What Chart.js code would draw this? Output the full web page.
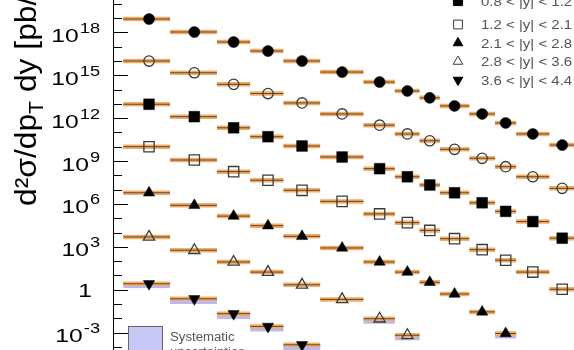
<!DOCTYPE html>
<html><head><meta charset="utf-8">
<script src="https://cdn.jsdelivr.net/npm/chart.js@4.4.1/dist/chart.umd.min.js"></script>
<style>html,body{margin:0;padding:0;background:#fff;}canvas{display:block;}</style>
</head><body>
<canvas id="c" width="574" height="350"></canvas>
<script>
// ---- data ----
const binEdges   = [20,30,45,60,80,110,160,210,260,310,400,500,600,800,1000];
const binCenters = [25,37,52,70,94,133,184,234,284,352,447,548,693,894];
const rapidityLabels = ["|y| < 0.3","0.3 < |y| < 0.8","0.8 < |y| < 1.2","1.2 < |y| < 2.1","2.1 < |y| < 2.8","2.8 < |y| < 3.6","3.6 < |y| < 4.4"];
const ySeries0 = [8.5e18,1.05e18,2.1e17,4.9e16,9.8e15,1.66e15,3.3e14,7.9e13,2.6e13,7.1e12,1.95e12,4.6e11,7.8e10,1.3e10];
const ySeries1 = [9.8e15,1.48e15,2.3e14,5.2e13,1.15e13,1.95e12,3.2e11,7.8e10,2.6e10,6.6e9,1.55e9,4.0e8,7.9e7,1.23e7];
const ySeries2 = [9.3e12,1.26e12,2.1e11,5.0e10,1.12e10,1.9e9,2.9e8,7.9e7,2.1e7,6.0e6,1.2e6,3.0e5,5.8e4,4.0e3];
const ySeries3 = [1.0e10,1.17e9,1.8e8,4.5e7,8.9e6,1.5e6,2.0e5,4.9e4,1.4e4,3.7e3,630,115,17,1.07];
const ySeries4 = [6.0e6,7.9e5,1.4e5,3.0e4,5.4e3,830,87,17,3.3,0.5,0.028,8.7e-4];
const ySeries5 = [4.9e3,575,87,17,2.2,0.21,9.3e-3,6.5e-4];
const ySeries6 = [2.6,0.23,0.021,2.7e-3,1.4e-4];
// lower edge of the visible systematic-uncertainty band (null = hidden under the bar)
const sysLow4 = [null,null,null,null,null,null,null,null,null,null,null,3.9e-4];
const sysLow5 = [null,null,null,null,null,null,4.2e-3,2.9e-4];
const sysLow6 = [1.3,0.1,0.009,1.2e-3,6e-5];
const yTickExponents = [18,15,12,9,6,3,0,-3];
const yAxisTitle = ["d\u00B2\u03C3/dp", "T", " dy [pb/GeV]"];
const systLabel = ["Systematic", "uncertainties"];

const allSeries = [ySeries0,ySeries1,ySeries2,ySeries3,ySeries4,ySeries5,ySeries6];
const sysBands = [[ySeries4,sysLow4],[ySeries5,sysLow5],[ySeries6,sysLow6]];
const X_MIN = 18.3, X_MAX = 990, Y_MIN = 6.07e-5, Y_MAX = 1.815e20;

// ---- styles ----
const markerStyles = [
  {pointStyle:'circle',   radius:5.5, rotation:0,   fill:true},
  {pointStyle:'circle',   radius:5.2, rotation:0,   fill:false},
  {pointStyle:'rect',     radius:7.6, rotation:0,   fill:true},
  {pointStyle:'rect',     radius:7.3, rotation:0,   fill:false},
  {pointStyle:'triangle', radius:6.5, rotation:0,   fill:true},
  {pointStyle:'triangle', radius:6.5, rotation:0,   fill:false},
  {pointStyle:'triangle', radius:6.5, rotation:180, fill:true}
];
const FONT = "'Liberation Sans', Arial, Helvetica, sans-serif";

function barData(vals){
  const d=[];
  vals.forEach((v,i)=>{ d.push({x:binEdges[i],y:v},{x:binEdges[i+1],y:v},{x:binEdges[i+1],y:null}); });
  return d;
}
const datasets=[];
allSeries.forEach((vals,s)=>{
  const st=markerStyles[s];
  datasets.push({
    type:'scatter', label:rapidityLabels[s], order:0,
    data: vals.map((v,i)=>({x:binCenters[i],y:v})),
    pointStyle:st.pointStyle, pointRadius:st.radius, pointRotation:st.rotation,
    pointBackgroundColor: st.fill ? '#000' : 'rgba(255,255,255,0)',
    pointBorderColor: st.fill ? '#000' : '#3a3a3a',
    pointBorderWidth: st.fill ? 0.5 : 1.3,
    showLine:false
  });
  datasets.push({
    type:'line', label:'err'+s, order:1, data:barData(vals),
    borderColor:'rgba(70,50,35,0.85)', borderWidth:1, pointRadius:0, spanGaps:false, showLine:true, fill:false
  });
  datasets.push({
    type:'line', label:'band'+s, order:2, data:barData(vals),
    borderColor:'#f2ae66', borderWidth:4.5, pointRadius:0, spanGaps:false, showLine:true, fill:false
  });
});

function scaledText(ctx, txt, x, y, px, sx, align){
  ctx.save();
  ctx.font = px+"px "+FONT;
  ctx.textBaseline='alphabetic';
  const w = ctx.measureText(txt).width*sx;
  let x0 = x;
  if(align==='right') x0 = x - w;
  ctx.translate(x0, y); ctx.scale(sx,1);
  ctx.textAlign='left';
  ctx.fillText(txt,0,0);
  ctx.restore();
  return w;
}
function textWidth(ctx, txt, px, sx){ ctx.save(); ctx.font=px+"px "+FONT; const w=ctx.measureText(txt).width*sx; ctx.restore(); return w; }

const sysPlugin = {
  id:'sys',
  beforeDatasetsDraw(chart){
    const ctx=chart.ctx, xs=chart.scales.x, ys=chart.scales.y;
    ctx.save();
    ctx.fillStyle='#b9b9f2';
    sysBands.forEach(([vals,lows])=>{
      lows.forEach((lo,i)=>{
        if(lo==null) return;
        const x0=xs.getPixelForValue(binEdges[i]), x1=xs.getPixelForValue(binEdges[i+1]);
        const y0=ys.getPixelForValue(vals[i]*1.15), y1=ys.getPixelForValue(lo);
        ctx.fillRect(x0,y0,x1-x0,y1-y0);
      });
    });
    ctx.restore();
  }
};

const decor = {
  id:'decor',
  afterDraw(chart){
    const ctx=chart.ctx, ys=chart.scales.y, area=chart.chartArea;
    ctx.save();
    // inner ticks each decade
    ctx.strokeStyle='#000'; ctx.lineWidth=1;
    for(let k=-4;k<=20;k++){
      const py=Math.round(ys.getPixelForValue(Math.pow(10,k)))+0.5;
      const len = (k%3===0)?15:9;
      ctx.beginPath(); ctx.moveTo(area.left,py); ctx.lineTo(area.left+len,py); ctx.stroke();
    }
    // tick labels
    ctx.fillStyle='#000';
    const R=100, sx=1.3;
    yTickExponents.forEach(e=>{
      const py=ys.getPixelForValue(Math.pow(10,e));
      if(e===0){ scaledText(ctx,"1",R-8,py+7,19,sx,'right'); return; }
      const es=String(e);
      const we=textWidth(ctx,es,14,sx);
      scaledText(ctx,es,R-we,py+0.5,14,sx,'left');
      scaledText(ctx,"10",R-we-1,py+9.5,19,sx,'right');
    });
    // y axis title (rotated)
    ctx.save();
    ctx.translate(36,206); ctx.rotate(-Math.PI/2); ctx.scale(1.06,1);
    ctx.fillStyle='#000'; ctx.textAlign='left'; ctx.textBaseline='alphabetic';
    ctx.font="30px "+FONT;
    let x=0;
    ctx.fillText(yAxisTitle[0],x,0); x+=ctx.measureText(yAxisTitle[0]).width;
    ctx.font="20px "+FONT;
    ctx.fillText(yAxisTitle[1],x,7); x+=ctx.measureText(yAxisTitle[1]).width;
    ctx.font="30px "+FONT;
    ctx.fillText(yAxisTitle[2],x,0);
    ctx.restore();
    // legend (top right)
    const rowY=[-36,-17.5,1,24.5,43,61.5,80];
    rapidityLabels.forEach((lab,s)=>{
      const cy=rowY[s]; if(cy<-8) return;
      const st=markerStyles[s];
      ctx.save();
      ctx.fillStyle= st.fill ? '#000' : '#fff';
      ctx.strokeStyle= st.fill ? '#000' : '#3a3a3a';
      Chart.helpers.drawPoint(ctx,{pointStyle:st.pointStyle,radius:st.radius*0.85,rotation:st.rotation,borderWidth:st.fill?0.5:1.2},458,cy);
      ctx.restore();
      ctx.fillStyle='#555';
      scaledText(ctx,lab,481,cy+4.5,12.5,1.2,'left');
    });
    // systematic uncertainties box
    ctx.fillStyle='#c8c8f6'; ctx.strokeStyle='#666'; ctx.lineWidth=1;
    ctx.fillRect(128,326,35,30); ctx.strokeRect(128.5,326.5,34,30);
    ctx.fillStyle='#555';
    scaledText(ctx,systLabel[0],170,341,12,1.1,'left');
    scaledText(ctx,systLabel[1],170,356,12,1.1,'left');
    ctx.restore();
  }
};

new Chart(document.getElementById('c'),{
  type:'scatter',
  data:{datasets},
  options:{
    responsive:false, animation:false, devicePixelRatio:1,
    layout:{padding:0, autoPadding:false},
    plugins:{legend:{display:false},tooltip:{enabled:false}},
    scales:{
      x:{type:'logarithmic',min:X_MIN,max:X_MAX,display:false,bounds:'data',
         afterBuildTicks(s){s.min=X_MIN;s.max=X_MAX;}},
      y:{type:'logarithmic',min:Y_MIN,max:Y_MAX,position:'left',bounds:'data',
         ticks:{display:false},grid:{display:false,drawTicks:false},
         border:{display:true,color:'#000',width:1},
         afterBuildTicks(s){s.min=Y_MIN;s.max=Y_MAX;},
         afterFit(s){s.width=113;}}
    }
  },
  plugins:[sysPlugin, decor]
});
</script>
</body></html>
